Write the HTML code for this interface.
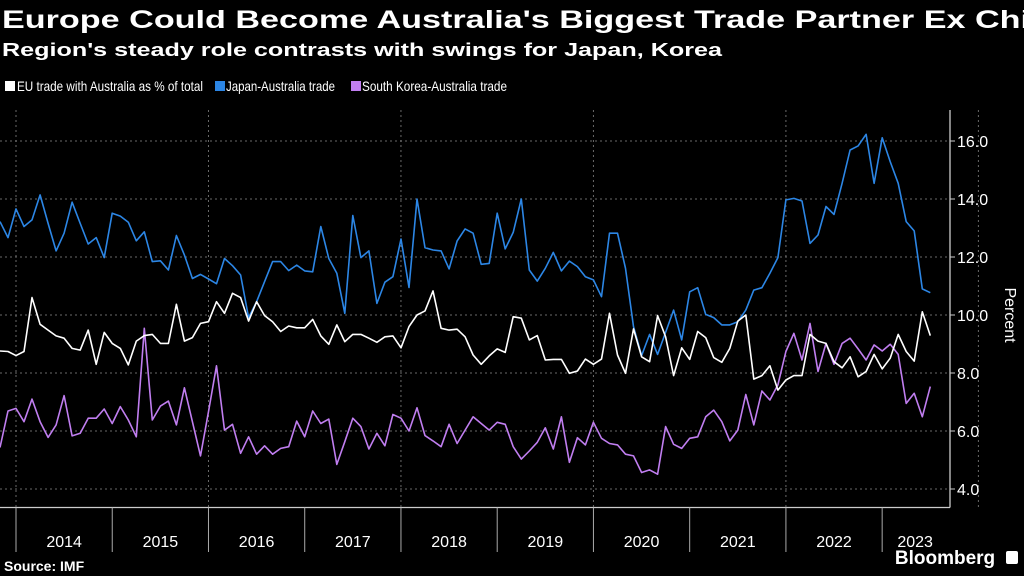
<!DOCTYPE html>
<html><head><meta charset="utf-8">
<style>
html,body{margin:0;padding:0;background:#000;width:1024px;height:576px;overflow:hidden}
svg{display:block}
text{font-family:"Liberation Sans",sans-serif}
</style></head>
<body>
<svg id="chart" width="1024" height="576" viewBox="0 0 1024 576" xmlns="http://www.w3.org/2000/svg">
<rect width="1024" height="576" fill="#000"/>
<text x="2" y="28" fill="#fff" font-size="25" font-weight="bold" textLength="1028" lengthAdjust="spacingAndGlyphs">Europe Could Become Australia's Biggest Trade Partner Ex Chi</text>
<text x="2" y="56" fill="#fff" font-size="18" font-weight="bold" textLength="720" lengthAdjust="spacingAndGlyphs">Region's steady role contrasts with swings for Japan, Korea</text>
<g>
<g><rect x="5" y="81" width="10" height="10" fill="#fff"/><text x="17" y="91" fill="#fff" font-size="14" textLength="186" lengthAdjust="spacingAndGlyphs">EU trade with Australia as % of total</text></g>
<g><rect x="215" y="81" width="10" height="10" fill="#2c86e5"/><text x="226" y="91" fill="#fff" font-size="14" textLength="109" lengthAdjust="spacingAndGlyphs">Japan-Australia trade</text></g>
<g><rect x="351" y="81" width="10" height="10" fill="#c07ef0"/><text x="362" y="91" fill="#fff" font-size="14" textLength="145" lengthAdjust="spacingAndGlyphs">South Korea-Australia trade</text></g>
</g>
<g id="grid"></g>
<g id="axes"></g>
<g id="series"></g>
<text transform="translate(1005,315) rotate(90)" text-anchor="middle" fill="#fff" font-size="16">Percent</text>
<text x="4" y="571" fill="#fff" font-size="14" font-weight="bold">Source: IMF</text>
<text x="945" y="564" fill="#fff" font-size="19" font-weight="bold" text-anchor="middle">Bloomberg</text>
<rect x="1006" y="551" width="12" height="13" rx="2" fill="#fff"/>
</svg>
<script>
const startYear = 2013, startMonth = 10; // Nov 2013 (0-based month)
const yTicks = [4, 6, 8, 10, 12, 14, 16];
const yearLabels = ["2014","2015","2016","2017","2018","2019","2020","2021","2022","2023"];
const euSeries = [8.76,8.74,8.60,8.74,10.6,9.68,9.48,9.28,9.2,8.85,8.79,9.48,8.30,9.40,9.02,8.85,8.28,9.1,9.29,9.33,9.02,9.02,10.37,9.1,9.22,9.71,9.77,10.46,10.06,10.75,10.6,
9.79,10.46,9.98,9.77,9.43,9.62,9.56,9.56,9.85,9.28,8.99,9.66,9.08,9.33,9.33,9.2,9.06,9.25,9.28,8.87,9.6,10.0,10.14,10.83,9.54,9.48,9.51,9.25,
8.62,8.30,8.59,8.83,8.71,9.94,9.89,9.14,9.29,8.45,8.47,8.47,7.99,8.07,8.48,8.30,8.48,10.06,8.62,7.99,9.52,8.56,8.39,9.98,9.25,7.91,8.87,8.47,9.43,
9.22,8.53,8.37,8.85,9.79,10.0,7.79,7.91,8.25,7.41,7.76,7.91,7.91,9.33,9.10,9.02,8.39,8.18,8.56,7.87,8.05,8.64,8.14,8.51,9.33,8.74,8.41,10.11,9.29];
const japanSeries = [13.22,12.67,13.66,13.05,13.28,14.14,13.16,12.21,12.82,13.89,13.16,12.45,12.67,11.98,13.51,13.41,13.2,12.56,12.87,11.84,11.87,11.55,12.74,12.07,11.26,11.4,11.24,11.08,11.95,11.7,11.38,
9.91,10.46,11.15,11.84,11.84,11.53,11.72,11.52,11.49,13.05,11.95,11.44,10.06,13.43,11.98,12.21,10.40,11.13,11.32,12.62,10.95,14.0,12.32,12.24,12.21,11.59,12.55,12.97,
12.82,11.75,11.78,13.51,12.28,12.85,14.0,11.55,11.17,11.61,12.16,11.52,11.86,11.67,11.32,11.21,10.63,12.82,12.82,11.61,9.60,8.60,9.33,8.64,9.40,10.17,9.14,10.80,10.94,
10.02,9.91,9.66,9.66,9.77,10.17,10.86,10.94,11.44,11.98,13.97,14.02,13.93,12.47,12.76,13.74,13.47,14.54,15.69,15.83,16.23,14.54,16.11,15.29,14.54,13.22,12.90,10.90,10.77];
const koreaSeries = [5.43,6.69,6.78,6.32,7.10,6.32,5.78,6.21,7.22,5.83,5.92,6.44,6.44,6.76,6.26,6.84,6.38,5.80,9.54,6.38,6.86,7.03,6.21,7.49,6.32,5.14,6.67,8.25,6.03,6.23,5.23,
5.80,5.20,5.49,5.2,5.40,5.46,6.34,5.80,6.69,6.26,6.41,4.85,5.63,6.44,6.15,5.38,5.92,5.49,6.57,6.44,6.0,6.80,5.84,5.66,5.46,6.23,5.57,6.03,
6.49,6.26,6.03,6.30,6.23,5.46,5.03,5.31,5.61,6.11,5.38,6.49,4.92,5.77,5.52,6.30,5.75,5.57,5.52,5.20,5.14,4.57,4.66,4.51,6.15,5.54,5.40,5.75,5.80,
6.49,6.72,6.32,5.66,6.03,7.26,6.21,7.38,7.07,7.59,8.74,9.37,8.45,9.71,8.05,9.02,8.30,9.02,9.20,8.83,8.45,8.97,8.76,8.99,8.64,6.95,7.30,6.49,7.53];

const NS = "http://www.w3.org/2000/svg";
const plotLeft = 0, plotRight = 950, axisY = 507.5;
const monthPx = 8.02;
function xMonth(m){ return 16 + m * monthPx; }
function xIndex(i){ return xMonth(i + (startYear - 2014) * 12 + startMonth); }
function yScale(v){ return 315 - (v - 10) * 29; }
function mk(tag, attrs, parent){ const e = document.createElementNS(NS, tag); for (const k in attrs) e.setAttribute(k, attrs[k]); parent.appendChild(e); return e; }

const grid = document.getElementById('grid');
const axes = document.getElementById('axes');
const series = document.getElementById('series');

yTicks.forEach(t => {
  const y = yScale(t);
  const l = mk('line', {x1: plotLeft, x2: plotRight, y1: y, y2: y, stroke: '#6a6a6a', 'stroke-width': 1, 'stroke-dasharray': '2,3'}, grid);
  
  
  const tk = mk('line', {x1: plotRight, x2: plotRight + 5, y1: y, y2: y, stroke: '#ccc', 'stroke-width': 1}, axes);
  
  
  const tx = mk('text', {x: plotRight + 7, y: y + 6, fill: '#fff', 'font-size': 16}, axes);
  tx.textContent = t.toFixed(1);
  
  
});
for (let yr = 0; yr <= yearLabels.length; yr += 2) {
  const x = xMonth(yr * 12);
  const l = mk('line', {x1: x, x2: x, y1: 110, y2: axisY, stroke: '#6a6a6a', 'stroke-width': 1, 'stroke-dasharray': '2,3'}, grid);
  
  
}
const ax = mk('line', {x1: plotLeft, x2: plotRight, y1: axisY, y2: axisY, stroke: '#ccc', 'stroke-width': 1.3}, axes);


const ay = mk('line', {x1: plotRight, x2: plotRight, y1: 110, y2: axisY, stroke: '#ccc', 'stroke-width': 1.3}, axes);


yearLabels.forEach((lab, k) => {
  const x0 = xMonth(k * 12);
  const tk = mk('line', {x1: x0, x2: x0, y1: axisY, y2: 552, stroke: '#aaa', 'stroke-width': 1}, axes);
  
  
  const x1 = Math.min(xMonth((k + 1) * 12), plotRight + 10);
  const tx = mk('text', {x: k === yearLabels.length - 1 ? x0 + 33 : (x0 + x1) / 2, y: 547, fill: '#fff', 'font-size': 16, 'text-anchor': 'middle'}, axes);
  tx.textContent = lab;
  
  
});
function drawLine(vals, color, name){
  const pts = vals.map((v, i) => xIndex(i).toFixed(1) + ',' + yScale(v).toFixed(1)).join(' ');
  const p = mk('polyline', {points: pts, fill: 'none', stroke: color, 'stroke-width': 1.6, 'stroke-linejoin': 'round'}, series);
  
  
}
drawLine(koreaSeries, '#c07ef0', 'korea-line');
drawLine(japanSeries, '#2c86e5', 'japan-line');
drawLine(euSeries, '#ffffff', 'eu-line');
</script>
</body></html>
